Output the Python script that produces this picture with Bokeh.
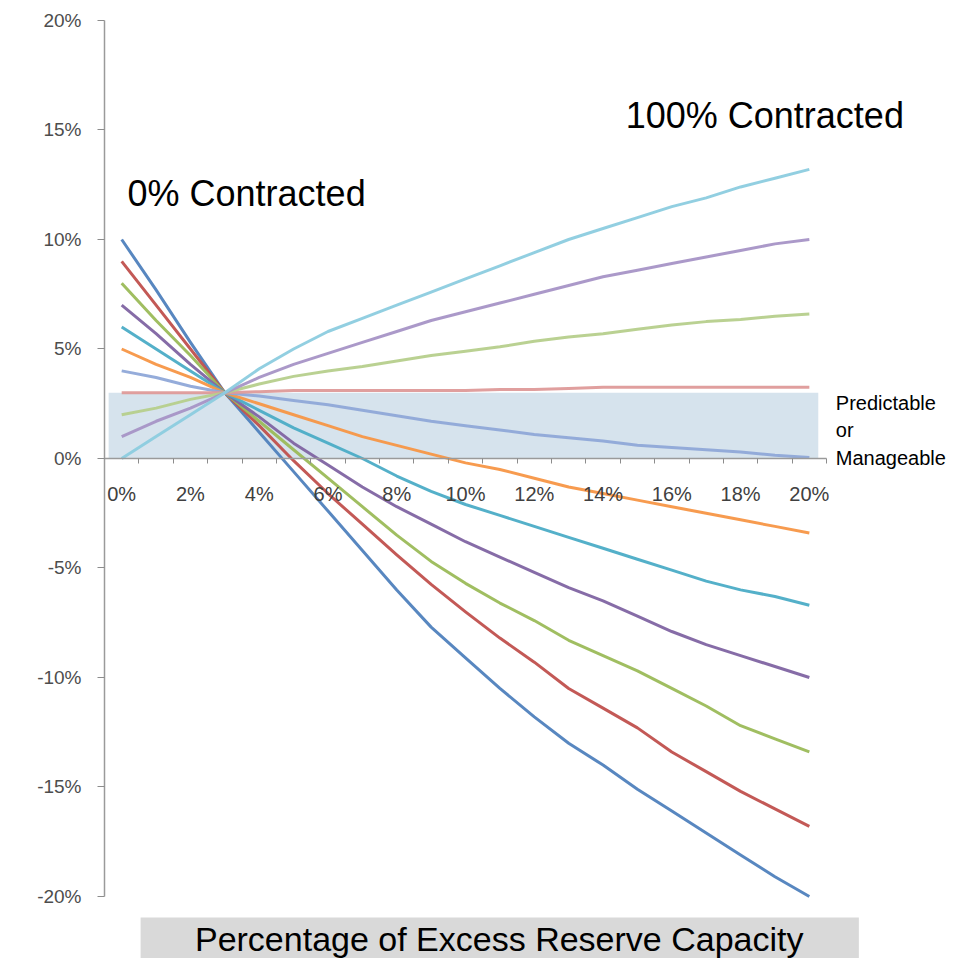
from bokeh.plotting import figure
from bokeh.models import Range1d, FixedTicker, BoxAnnotation, Label
from bokeh.embed import file_html
from bokeh.resources import INLINE

# ---------------- data ----------------
excess = list(range(0, 21))                     # % excess reserve capacity (categories)
x_tick_values = excess[::2]
x_tick_labels = [f"{v}%" for v in x_tick_values]
y_tick_values = [-20, -15, -10, -5, 0, 5, 10, 15, 20]
y_tick_labels = [f"{v}%" for v in y_tick_values]

contracted = ["0%", "10%", "20%", "30%", "40%", "50%", "60%", "70%", "80%", "90%", "100%"]

s_00 = [10.0, 7.7, 5.3, 3.0, 1.2, -0.6, -2.4, -4.2, -6.0, -7.7, -9.1, -10.5, -11.8, -13.0, -14.0, -15.1, -16.1, -17.1, -18.1, -19.1, -20.0]
s_10 = [9.0, 7.0, 5.0, 3.0, 1.5, -0.1, -1.6, -3.0, -4.4, -5.75, -7.0, -8.2, -9.3, -10.5, -11.4, -12.3, -13.4, -14.3, -15.2, -16.0, -16.8]
s_20 = [8.0, 6.3, 4.7, 3.0, 1.7, 0.4, -0.9, -2.2, -3.5, -4.7, -5.7, -6.6, -7.4, -8.3, -9.0, -9.7, -10.5, -11.3, -12.2, -12.8, -13.4]
s_30 = [7.0, 5.7, 4.3, 3.0, 1.9, 0.7, -0.3, -1.3, -2.2, -3.0, -3.8, -4.5, -5.2, -5.9, -6.5, -7.2, -7.9, -8.5, -9.0, -9.5, -10.0]
s_40 = [6.0, 5.0, 4.0, 3.0, 2.2, 1.4, 0.7, 0.0, -0.8, -1.5, -2.1, -2.6, -3.1, -3.6, -4.1, -4.6, -5.1, -5.6, -6.0, -6.3, -6.7]
s_50 = [5.0, 4.3, 3.7, 3.0, 2.5, 2.0, 1.5, 1.0, 0.6, 0.2, -0.2, -0.5, -0.9, -1.3, -1.6, -1.9, -2.2, -2.5, -2.8, -3.1, -3.4]
s_60 = [4.0, 3.7, 3.3, 3.0, 2.85, 2.65, 2.45, 2.2, 1.95, 1.7, 1.5, 1.3, 1.1, 0.95, 0.8, 0.6, 0.5, 0.4, 0.3, 0.15, 0.05]
s_70 = [3.0, 3.0, 3.0, 3.0, 3.05, 3.1, 3.1, 3.1, 3.1, 3.1, 3.1, 3.15, 3.15, 3.2, 3.25, 3.25, 3.25, 3.25, 3.25, 3.25, 3.25]
s_80 = [2.0, 2.3, 2.7, 3.0, 3.4, 3.75, 4.0, 4.2, 4.45, 4.7, 4.9, 5.1, 5.35, 5.55, 5.7, 5.9, 6.1, 6.25, 6.35, 6.5, 6.6]
s_90 = [1.0, 1.7, 2.3, 3.0, 3.7, 4.3, 4.8, 5.3, 5.8, 6.3, 6.7, 7.1, 7.5, 7.9, 8.3, 8.6, 8.9, 9.2, 9.5, 9.8, 10.0]
s_100 = [0.0, 1.0, 2.0, 3.0, 4.1, 5.0, 5.8, 6.4, 7.0, 7.6, 8.2, 8.8, 9.4, 10.0, 10.5, 11.0, 11.5, 11.9, 12.4, 12.8, 13.2]

series = [s_00, s_10, s_20, s_30, s_40, s_50, s_60, s_70, s_80, s_90, s_100]
colors = ["#4F81BD", "#C0504D", "#9BBB59", "#8064A2", "#4BACC6", "#F79646",
          "#8FA8D8", "#DE9A99", "#B6CF8C", "#A694C6", "#8CCCDF"]

band_low, band_high = 0, 3          # "Predictable or Manageable" zone (%)

# ---------------- figure ----------------
p = figure(width=956, height=958,
           x_range=Range1d(-0.5, 24.28), y_range=Range1d(-22.831, 20.913),
           output_backend="svg", toolbar_location=None,
           min_border_left=104, min_border_right=0, min_border_top=0, min_border_bottom=0)
p.xgrid.visible = False
p.ygrid.visible = False
p.outline_line_color = None
p.background_fill_color = "white"

# shaded band
p.add_layout(BoxAnnotation(left=-0.38, right=20.26, bottom=band_low, top=band_high,
                           fill_color="#D6E3ED", fill_alpha=1.0, line_color=None,
                           level="underlay"))

for vals, col, name in zip(series, colors, contracted):
    p.line(excess, vals, line_color=col, line_width=3, line_alpha=0.95, line_join="round")

# x axis crossing at y = 0
xa = p.xaxis[0]
xa.fixed_location = 0
xa.bounds = (-0.5, 20.5)
xa.ticker = FixedTicker(ticks=x_tick_values, minor_ticks=[c + 0.5 for c in excess])
xa.major_label_overrides = dict(zip(x_tick_values, x_tick_labels))
xa.major_tick_in = 0
xa.major_tick_out = 0
xa.minor_tick_in = 0
xa.minor_tick_out = 5
xa.minor_tick_line_color = "#8C8C8C"
xa.axis_line_color = "#9A9A9A"
xa.axis_line_width = 1.5
xa.major_label_standoff = 20
xa.major_label_text_font = "Liberation Sans"
xa.major_label_text_font_size = "20px"
xa.major_label_text_color = "#404040"

ya = p.yaxis[0]
ya.bounds = (-20, 20)
ya.ticker = FixedTicker(ticks=y_tick_values, minor_ticks=[])
ya.major_label_overrides = dict(zip(y_tick_values, y_tick_labels))
ya.major_tick_in = 0
ya.major_tick_out = 7
ya.major_tick_line_color = "#8C8C8C"
ya.axis_line_color = "#9A9A9A"
ya.axis_line_width = 1.5
ya.major_label_standoff = 16
ya.major_label_text_font = "Liberation Sans"
ya.major_label_text_font_size = "19px"
ya.major_label_text_color = "#4D4D4D"

# annotations
p.add_layout(Label(x=0.17, y=12.08, text="0% Contracted", text_font="Liberation Sans",
                   text_font_size="36px", text_color="black", text_baseline="middle"))
p.add_layout(Label(x=14.66, y=15.64, text="100% Contracted", text_font="Liberation Sans",
                   text_font_size="36px", text_color="black", text_baseline="middle"))
for t, yy in [("Predictable", 2.53), (" or", 1.3), ("Manageable", 0.0)]:
    p.add_layout(Label(x=20.77, y=yy, text=t, text_font="Liberation Sans",
                       text_font_size="20px", text_color="black", text_baseline="middle"))

p.add_layout(BoxAnnotation(left=0.55, right=21.44, top=-20.96,
                           fill_color="#D9D9D9", fill_alpha=1.0, line_color=None))
p.add_layout(Label(x=10.98, y=-21.92, text="Percentage of Excess Reserve Capacity",
                   text_font="Liberation Sans", text_font_size="34px", text_color="black",
                   text_align="center", text_baseline="middle"))

open("out.html", "w").write(file_html(p, INLINE))
